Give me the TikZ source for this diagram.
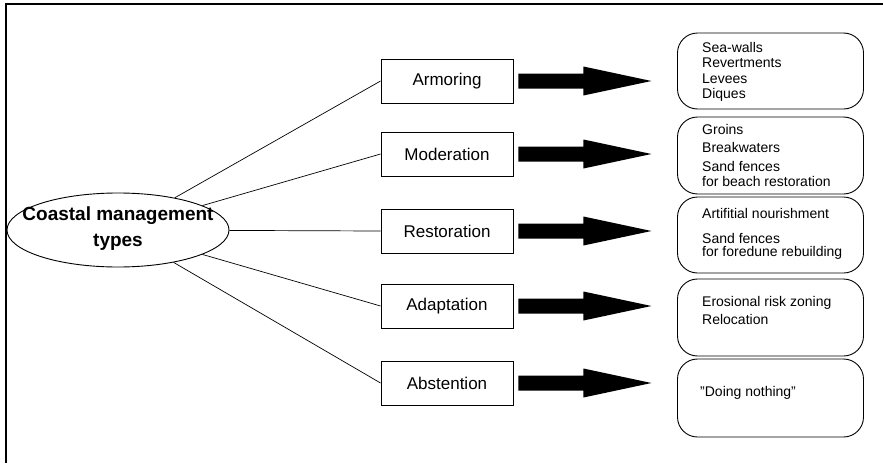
\documentclass[tikz,border=0pt]{standalone}
\usepackage{fontspec}
\setmainfont{Liberation Sans}
\usetikzlibrary{shapes.geometric}
\begin{document}
\begin{tikzpicture}[x=1pt,y=-1pt,
 typebox/.style={draw, line width=0.9pt, minimum width=132pt, minimum height=44pt, inner sep=0pt, font=\fontsize{17}{20}\selectfont},
 listbox/.style={draw, line width=0.9pt, rounded corners=20pt, minimum width=186pt, inner sep=0pt},
 item/.style={anchor=west, inner sep=0pt, font=\fontsize{14}{16}\selectfont},
 link/.style={line width=0.7pt}]
\useasboundingbox (0,0) rectangle (883,463);
\draw[line width=1.6pt] (6,463) -- (6,4) -- (883,4);
\node[ellipse, draw, line width=0.9pt, minimum width=222pt, minimum height=74pt, inner sep=0pt] (ctype) at (118,230) {};
\node[align=center, inner sep=0pt, font=\bfseries\fontsize{19}{26}\selectfont] (ctext) at (118,229) {Coastal management\\types};
% type boxes
\node[typebox] (t1) at (447,81) {Armoring};
\node[typebox] (t2) at (447,154) {Moderation};
\node[typebox] (t3) at (447,231) {Restoration};
\node[typebox] (t4) at (447,306) {Adaptation};
\node[typebox] (t5) at (447,383) {Abstention};
% links and block arrows
\foreach \t in {t1,t2,t3,t4,t5}{
  \draw[link] (ctype) -- (\t.west);
  \fill[shift={(\t.east)}] (5,-7.5) -- (70,-7.5) -- (70,-14.5) -- (138,0) -- (70,14.5) -- (70,7.5) -- (5,7.5) -- cycle;
}
% list boxes
\node[listbox, minimum height=76pt] (l1) at (770.5,71) {};
\node[listbox, minimum height=77pt] (l2) at (770.5,155.5) {};
\node[listbox, minimum height=76pt] (l3) at (770.5,235) {};
\node[listbox, minimum height=77pt] (l4) at (770.5,317.5) {};
\node[listbox, minimum height=78pt] (l5) at (770.5,398) {};
% items
\node[item] (i1a) at (702,47) {Sea-walls};
\node[item] (i1b) at (702,63) {Revertments};
\node[item] (i1c) at (702,79) {Levees};
\node[item] (i1d) at (702,95) {Diques};
\node[item] (i2a) at (702,129) {Groins};
\node[item] (i2b) at (702,147) {Breakwaters};
\node[item] (i2c) at (702,166) {Sand fences};
\node[item] (i2d) at (702,181) {for beach restoration};
\node[item] (i3a) at (702,213) {Artifitial nourishment};
\node[item] (i3b) at (702,238) {Sand fences};
\node[item] (i3c) at (702,253) {for foredune rebuilding};
\node[item] (i4a) at (702,303) {Erosional risk zoning};
\node[item] (i4b) at (702,319) {Relocation};
\node[item] (i5a) at (700,393) {"Doing nothing"};
\end{tikzpicture}
\end{document}
